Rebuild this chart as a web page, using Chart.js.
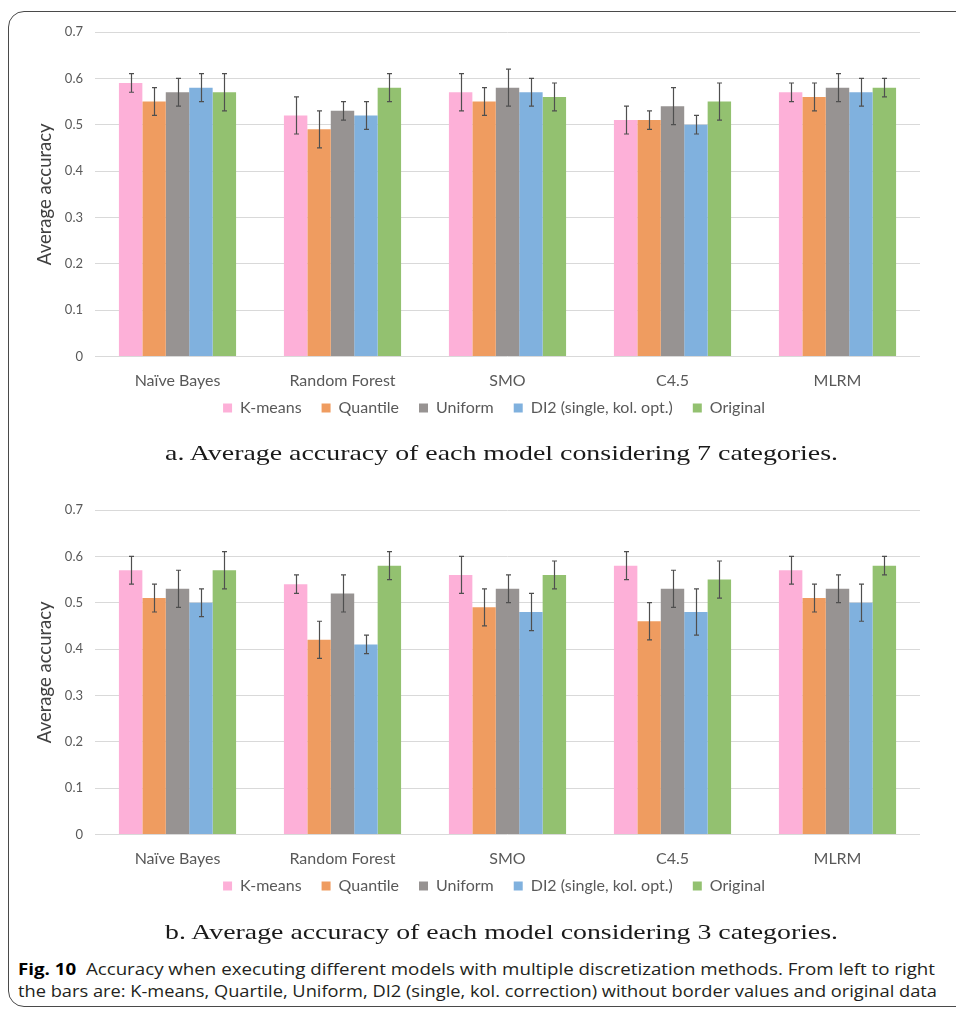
<!DOCTYPE html>
<html><head><meta charset="utf-8">
<script src="https://cdn.jsdelivr.net/npm/chart.js@4.4.0/dist/chart.umd.min.js"></script>
<style>
html,body{margin:0;padding:0;background:#fff;}
body{width:956px;height:1012px;position:relative;overflow:hidden;}
.frame{position:absolute;left:8px;top:11px;width:1000px;height:996px;border:1.3px solid #4a4a4a;border-radius:16px;box-sizing:border-box;}
canvas{position:absolute;left:0;}
.cap{position:absolute;white-space:nowrap;font-family:"Liberation Serif";font-size:22px;color:#1a1a1a;transform-origin:left top;line-height:1;}
.fig{position:absolute;white-space:nowrap;font-family:"Open Sans";font-size:16px;color:#231f20;transform-origin:left top;line-height:1;}
</style></head>
<body>
<div class="frame"></div>
<canvas id="ca" width="956" height="460" style="top:0"></canvas>
<canvas id="cb" width="956" height="460" style="top:478px"></canvas>
<div class="cap" id="capa" data-x="165" data-y="442" data-w="673">a. Average accuracy of each model considering 7 categories.</div>
<div class="cap" id="capb" data-x="165" data-y="921" data-w="673">b. Average accuracy of each model considering 3 categories.</div>
<div class="fig" id="f1" data-x="18" data-y="961" data-w="917"><b style="color:#000">Fig. 10</b>&nbsp; Accuracy when executing different models with multiple discretization methods. From left to right</div>
<div class="fig" id="f2" data-x="18" data-y="983" data-w="919">the bars are: K-means, Quartile, Uniform, DI2 (single, kol. correction) without border values and original data</div>
<script>
const categories = ['Naïve Bayes','Random Forest','SMO','C4.5','MLRM'];
const methods = ['K-means','Quantile','Uniform','DI2 (single, kol. opt.)','Original'];
const yTickLabels = ['0','0.1','0.2','0.3','0.4','0.5','0.6','0.7'];

// (a) 7 categories
const kmeans7 = [0.59,0.52,0.57,0.51,0.57];
const kmeans7Err = [0.02,0.04,0.04,0.03,0.02];
const quantile7 = [0.55,0.49,0.55,0.51,0.56];
const quantile7Err = [0.03,0.04,0.03,0.02,0.03];
const uniform7 = [0.57,0.53,0.58,0.54,0.58];
const uniform7Err = [0.03,0.02,0.04,0.04,0.03];
const di2_7 = [0.58,0.52,0.57,0.50,0.57];
const di2_7Err = [0.03,0.03,0.03,0.02,0.03];
const original7 = [0.57,0.58,0.56,0.55,0.58];
const original7Err = [0.04,0.03,0.03,0.04,0.02];

// (b) 3 categories
const kmeans3 = [0.57,0.54,0.56,0.58,0.57];
const kmeans3Err = [0.03,0.02,0.04,0.03,0.03];
const quantile3 = [0.51,0.42,0.49,0.46,0.51];
const quantile3Err = [0.03,0.04,0.04,0.04,0.03];
const uniform3 = [0.53,0.52,0.53,0.53,0.53];
const uniform3Err = [0.04,0.04,0.03,0.04,0.03];
const di2_3 = [0.50,0.41,0.48,0.48,0.50];
const di2_3Err = [0.03,0.02,0.04,0.05,0.04];
const original3 = [0.57,0.58,0.56,0.55,0.58];
const original3Err = [0.04,0.03,0.03,0.04,0.02];

const colors = ['#fdb0d8','#ef9c60','#979392','#80b1de','#93c170'];

const errorBars = {
  id:'errorBars',
  afterDatasetsDraw(chart){
    const ctx = chart.ctx, ys = chart.scales.y;
    ctx.save();
    ctx.strokeStyle = '#4f4f4f'; ctx.lineWidth = 1.2;
    chart.data.datasets.forEach((ds,i)=>{
      const meta = chart.getDatasetMeta(i);
      meta.data.forEach((bar,j)=>{
        const v = ds.data[j], e = ds.errors[j];
        const yt = ys.getPixelForValue(v+e), yb = ys.getPixelForValue(v-e);
        const x = Math.round(bar.x)+0.5, c = 2.5;
        ctx.beginPath();
        ctx.moveTo(x,yt); ctx.lineTo(x,yb);
        ctx.moveTo(x-c,yt); ctx.lineTo(x+c,yt);
        ctx.moveTo(x-c,yb); ctx.lineTo(x+c,yb);
        ctx.stroke();
      });
    });
    ctx.restore();
  }
};
const legendShift = {
  id:'legendShift',
  afterLayout(chart){
    const lg = chart.legend;
    const dx = 19, dy = (chart.chartArea.bottom + 23.5) - lg.top;
    lg.left += dx; lg.right += dx;
    lg.top += dy; lg.bottom += dy;
  }
};

function makeChart(id, series){
  return new Chart(document.getElementById(id), {
    type:'bar',
    data:{labels:categories, datasets: series.map((s,i)=>({label:methods[i], data:s[0], errors:s[1], backgroundColor:colors[i], borderWidth:0}))},
    options:{
      responsive:false, animation:false, devicePixelRatio:1,
      layout:{padding:{left:30,right:36,top:32,bottom:16.3}},
      datasets:{bar:{barPercentage:1, categoryPercentage:0.71}},
      plugins:{
        legend:{position:'bottom', labels:{boxWidth:9, boxHeight:9, padding:20, color:'#595959', font:{family:'Lato', size:16}}},
        tooltip:{enabled:false}
      },
      scales:{
        x:{grid:{display:false}, border:{display:false}, ticks:{color:'#595959', font:{family:'Lato', size:16}, padding:7}},
        y:{min:0, max:0.7,
           ticks:{stepSize:0.1, color:'#595959', font:{family:'Lato', size:13}, padding:12,
                  callback:(v)=>yTickLabels[Math.round(v*10)]},
           grid:{color:'#d9d9d9', drawTicks:false}, border:{display:false},
           title:{display:true, text:'Average accuracy', color:'#404040', font:{family:'Lato', size:18.5}, padding:{top:4,bottom:0}},
           afterFit(s){ s.width = 65; }}
      }
    },
    plugins:[errorBars, legendShift]
  });
}
makeChart('ca', [[kmeans7,kmeans7Err],[quantile7,quantile7Err],[uniform7,uniform7Err],[di2_7,di2_7Err],[original7,original7Err]]);
makeChart('cb', [[kmeans3,kmeans3Err],[quantile3,quantile3Err],[uniform3,uniform3Err],[di2_3,di2_3Err],[original3,original3Err]]);

document.querySelectorAll('.cap,.fig').forEach(el=>{
  el.style.left = el.dataset.x+'px'; el.style.top = el.dataset.y+'px';
  const w = el.getBoundingClientRect().width;
  el.style.transform = 'scaleX('+(+el.dataset.w/w)+')';
});
</script>
</body></html>
